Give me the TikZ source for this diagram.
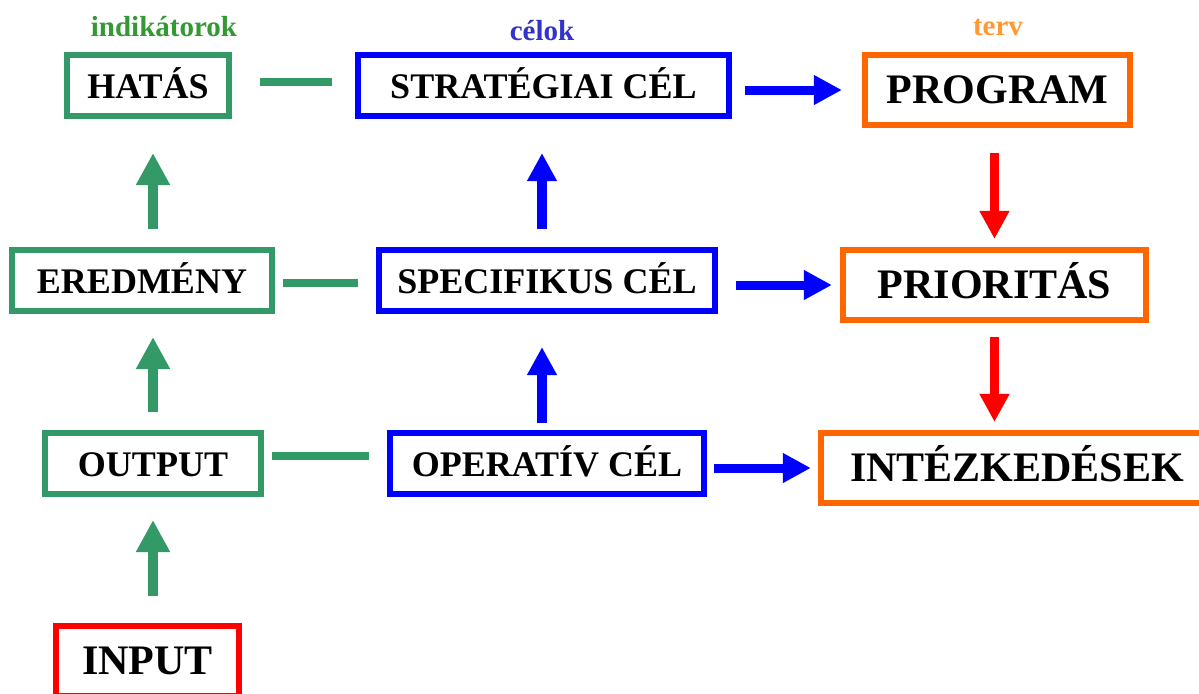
\documentclass[tikz,border=0pt]{standalone}
\usepackage{fontspec}
\setmainfont{Liberation Serif}
\usetikzlibrary{arrows.meta}

\definecolor{zoeld}{RGB}{51,153,102}
\definecolor{kek}{RGB}{0,0,255}
\definecolor{narancs}{RGB}{255,102,0}
\definecolor{piros}{RGB}{255,0,0}
\definecolor{fzoeld}{RGB}{51,153,51}
\definecolor{fkek}{RGB}{51,51,204}
\definecolor{fnarancs}{RGB}{255,153,51}

\begin{document}
\begin{tikzpicture}[x=0.01cm,y=-0.01cm,
	doboz/.style={draw,line width=0.06cm,inner sep=0pt,minimum height=0.61cm,
		text height=0.76em,text depth=0pt,font=\fontsize{10.24pt}{12pt}\selectfont\bfseries},
	nagydoboz/.style={doboz,minimum height=0.70cm,font=\fontsize{11.95pt}{14pt}\selectfont\bfseries},
	fejlec/.style={anchor=base,font=\fontsize{8.25pt}{10pt}\selectfont\bfseries},
	vonal/.style={zoeld,line width=0.08cm},
	zoldnyil/.style={zoeld,line width=0.1cm,-{Triangle[width=0.32cm,length=0.32cm]}},
	keknyil/.style={kek,line width=0.09cm,-{Triangle[width=0.28cm,length=0.28cm]}},
	pirosnyil/.style={piros,line width=0.09cm,-{Triangle[width=0.28cm,length=0.28cm]}}]

\useasboundingbox (0,0) rectangle (1199,693);
\clip (0,0) rectangle (1199,693);

\node[fejlec,text=fzoeld] (indikatorok) at (164,36) {indikátorok};
\node[fejlec,text=fkek] (celok) at (542,40) {célok};
\node[fejlec,text=fnarancs] (terv) at (998,35) {terv};

\node[doboz,draw=zoeld,minimum width=1.62cm] (hatas) at (148,85.5) {HATÁS};
\node[doboz,draw=kek,minimum width=3.71cm] (strat) at (543.5,85.5) {STRATÉGIAI CÉL};
\node[nagydoboz,draw=narancs,minimum width=2.65cm] (program) at (997.5,90) {PROGRAM};

\node[doboz,draw=zoeld,minimum width=2.60cm] (eredmeny) at (142,280.5) {EREDMÉNY};
\node[doboz,draw=kek,minimum width=3.36cm] (spec) at (547,280.5) {SPECIFIKUS CÉL};
\node[nagydoboz,draw=narancs,minimum width=3.03cm] (prior) at (994.5,285) {PRIORITÁS};

\node[doboz,draw=zoeld,minimum width=2.16cm] (output) at (153,463.5) {OUTPUT};
\node[doboz,draw=kek,minimum width=3.14cm] (oper) at (547,463.5) {OPERATÍV CÉL};
\node[nagydoboz,draw=narancs,minimum width=3.92cm] (intez) at (1017,468) {INTÉZKEDÉSEK};

\node[nagydoboz,draw=piros,minimum width=1.83cm] (input) at (147.5,661) {INPUT};

\draw[vonal,shorten <=0.28cm,shorten >=0.23cm] ([yshift=0.035cm]hatas.east) -- ([yshift=0.035cm]strat.west);
\draw[vonal,shorten <=0.08cm,shorten >=0.18cm] ([yshift=-0.02cm]eredmeny.east) -- ([yshift=-0.02cm]spec.west);
\draw[vonal,shorten <=0.08cm,shorten >=0.18cm] ([yshift=0.08cm]output.east) -- ([yshift=0.08cm]oper.west);

\draw[zoldnyil,shorten <=0.27cm,shorten >=0.23cm] (input.north -| output) -- (output.south);
\draw[zoldnyil,shorten <=0.18cm,shorten >=0.23cm] (output.north) -- (output.north |- eredmeny.south);
\draw[zoldnyil,shorten <=0.18cm,shorten >=0.34cm] (eredmeny.north -| output) -- (hatas.south -| output);

\draw[keknyil,shorten <=0.07cm,shorten >=0.33cm] ([xshift=-0.05cm]oper.north) -- ([xshift=-0.05cm]spec.south);
\draw[keknyil,shorten <=0.18cm,shorten >=0.34cm] ([xshift=-0.05cm]spec.north) -- ([xshift=-0.05cm]spec.north |- strat.south);

\draw[keknyil,shorten <=0.13cm,shorten >=0.20cm] (strat.east |- program) -- (program.west);
\draw[keknyil,shorten <=0.18cm,shorten >=0.08cm] (spec.east |- prior) -- (prior.west);
\draw[keknyil,shorten <=0.07cm,shorten >=0.07cm] (oper.east |- intez) -- (intez.west);

\draw[pirosnyil,shorten <=0.25cm,shorten >=0.08cm] (program.south -| prior) -- (prior.north);
\draw[pirosnyil,shorten <=0.14cm,shorten >=0.08cm] (prior.south) -- (prior.south |- intez.north);

\end{tikzpicture}
\end{document}
